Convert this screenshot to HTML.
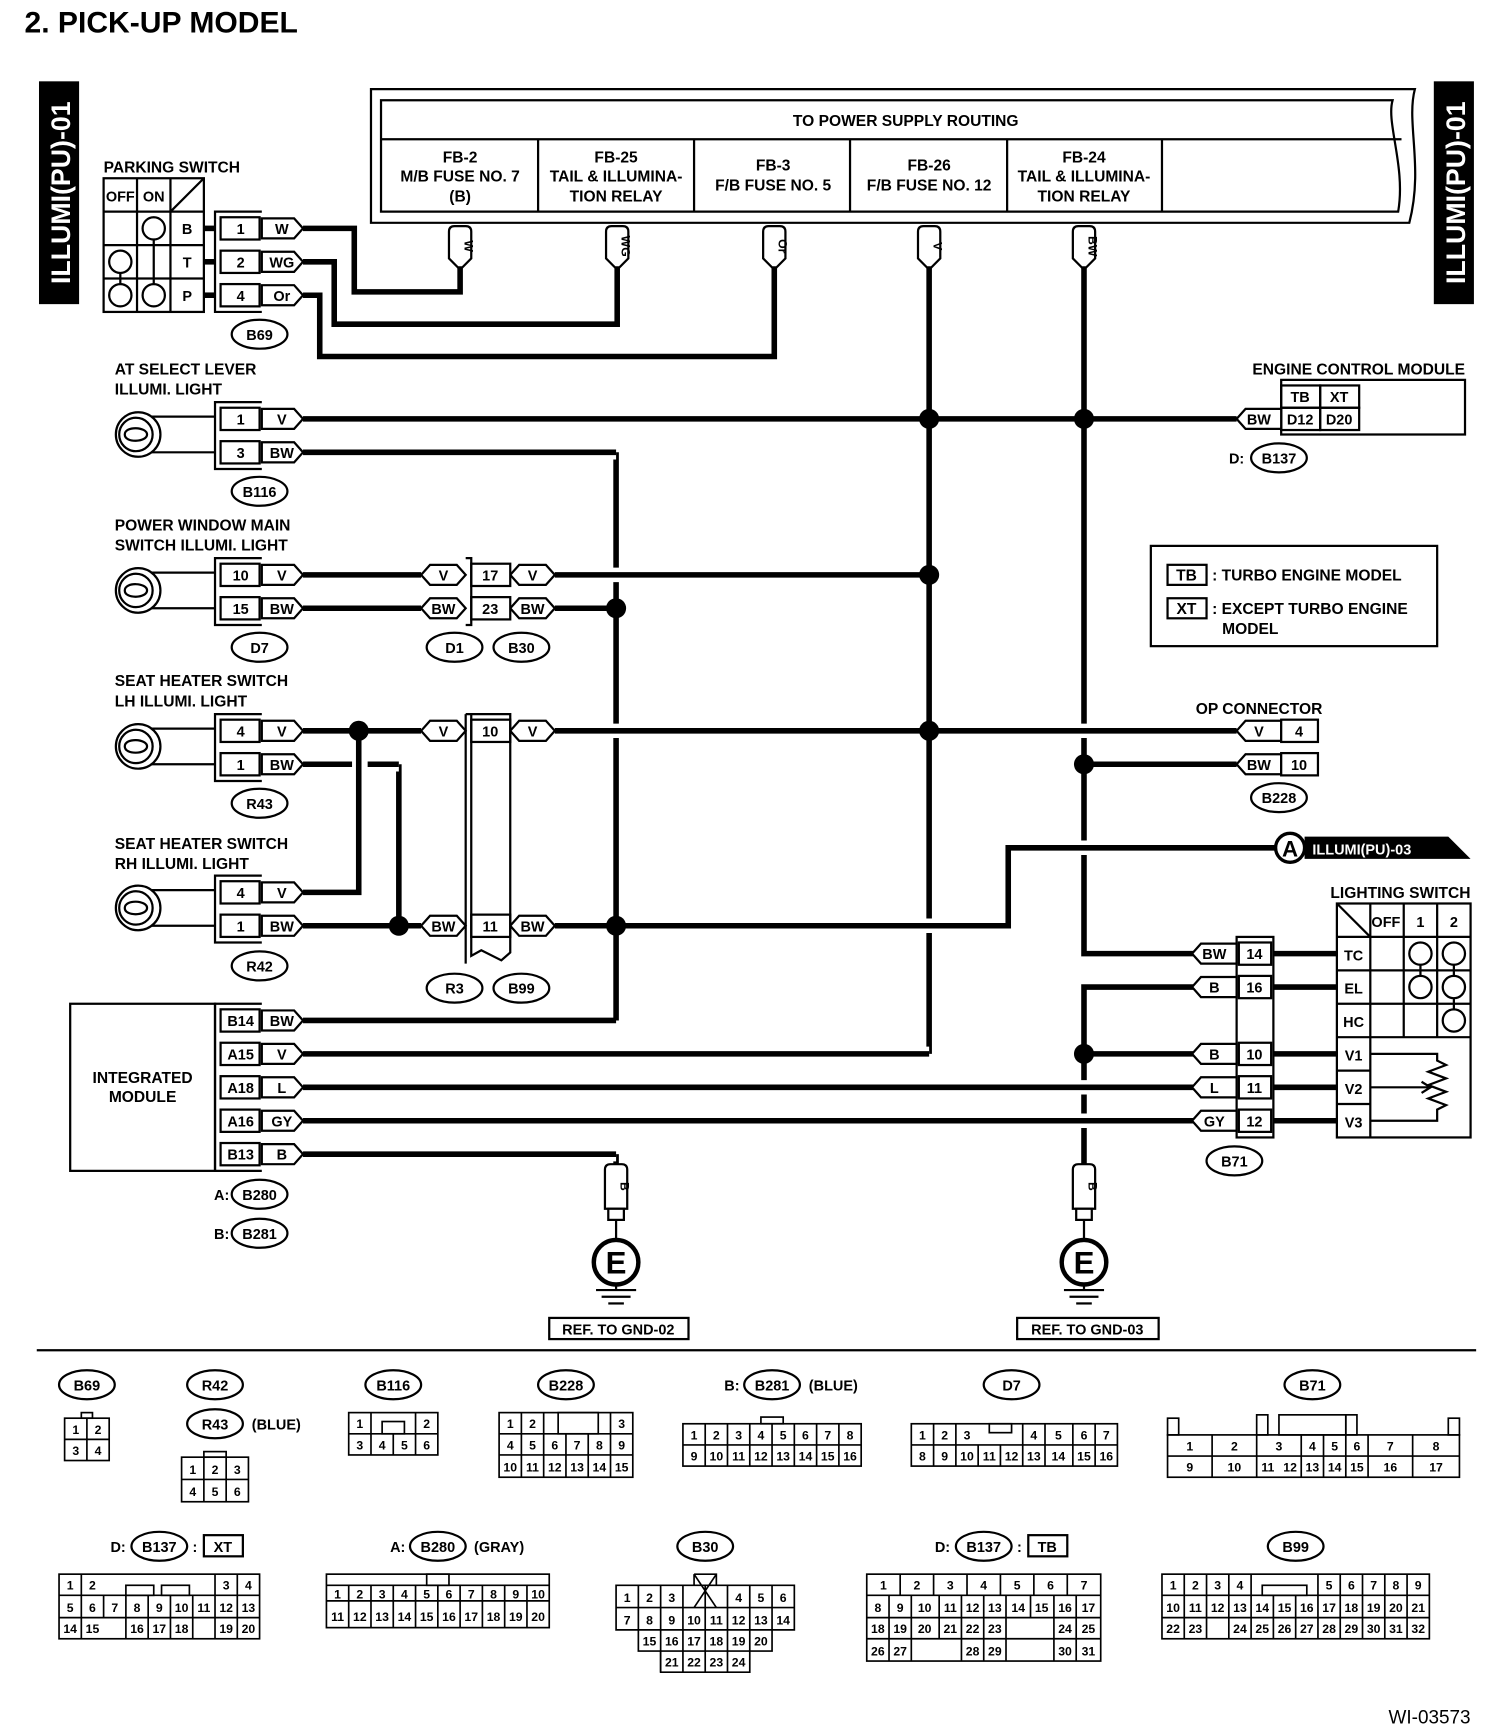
<!DOCTYPE html>
<html><head><meta charset="utf-8"><style>
html,body{margin:0;padding:0;background:#fff}
svg{display:block}
text{font-family:"Liberation Sans",Arial,sans-serif;font-weight:bold;fill:#000}
</style></head><body>
<svg width="1504" height="1726" viewBox="0 0 1350 1549.3" preserveAspectRatio="none" xmlns="http://www.w3.org/2000/svg">
<defs>
<g id="lamp">
<circle cx="0" cy="0" r="20" fill="#fff" stroke="#000" stroke-width="2"/>
<circle cx="-2" cy="0" r="15" fill="none" stroke="#000" stroke-width="2"/>
<path d="M-12,0 C-12,-8 8,-7 8,0 C8,7 -12,8 -12,0" fill="none" stroke="#000" stroke-width="2"/>
</g>
</defs>
<rect width="1350" height="1550" fill="#fff"/>
<text x="22" y="29" font-size="27">2.  PICK-UP MODEL</text>

<rect x="35" y="73" width="36" height="200" fill="#000"/>
<text transform="translate(63,173) rotate(-90)" font-size="24" text-anchor="middle" style="fill:#fff">ILLUMI(PU)-01</text>
<rect x="1287" y="73" width="36" height="200" fill="#000"/>
<text transform="translate(1315,173) rotate(-90)" font-size="24" text-anchor="middle" style="fill:#fff">ILLUMI(PU)-01</text>

<g fill="none" stroke="#000" stroke-width="2">
<path d="M333,80 H1270 C1262,110 1278,150 1265,200 H333 Z"/>
<path d="M342,90 H1250 C1244,110 1262,150 1255,190 H342 Z"/>
<line x1="342" y1="125" x2="1258" y2="125"/>
<line x1="483" y1="125" x2="483" y2="190"/><line x1="623" y1="125" x2="623" y2="190"/>
<line x1="763" y1="125" x2="763" y2="190"/><line x1="904" y1="125" x2="904" y2="190"/>
<line x1="1043" y1="125" x2="1043" y2="190"/>
</g>
<g font-size="14" text-anchor="middle">
<text x="813" y="113">TO POWER SUPPLY ROUTING</text>
<text x="413" y="146">FB-2</text><text x="413" y="163">M/B FUSE NO. 7</text><text x="413" y="181">(B)</text>
<text x="553" y="146">FB-25</text><text x="553" y="163">TAIL &amp; ILLUMINA-</text><text x="553" y="181">TION RELAY</text>
<text x="694" y="153">FB-3</text><text x="694" y="171">F/B FUSE NO. 5</text>
<text x="834" y="153">FB-26</text><text x="834" y="171">F/B FUSE NO. 12</text>
<text x="973" y="146">FB-24</text><text x="973" y="163">TAIL &amp; ILLUMINA-</text><text x="973" y="181">TION RELAY</text>
</g>

<g stroke="#000" stroke-width="5" fill="none">
<path d="M413,236 V262 H318 V205 H272"/>
<path d="M554,236 V291 H300 V235 H272"/>
<path d="M695,236 V320 H287 V265 H272"/>
<line x1="834" y1="236" x2="834" y2="946"/>
<path d="M973,236 V856 H1072"/>
<path d="M553,406 V916"/>
<path d="M322,656 V801 H272"/>
<path d="M358,686 V831"/>
<path d="M1072,886 H973 V1045"/>
<path d="M553,1036 V1045"/>
</g>
<g fill="none" stroke-linejoin="miter">
<g stroke="#fff" stroke-width="13">
<path d="M280,376 H1110"/><path d="M280,406 H553"/>
<path d="M280,516 H378 M500,516 H834"/><path d="M280,546 H378 M500,546 H553"/>
<path d="M280,656 H378 M500,656 H1108"/><path d="M280,686 H316 M328,686 H358 M973,686 H1108"/>
<path d="M280,831 H378 M500,831 H905 V761 H1145"/>
<path d="M280,946 H834 M973,946 H1072"/><path d="M280,976 H1072"/><path d="M280,1006 H1072"/><path d="M280,1036 H553"/>
</g>
<g stroke="#000" stroke-width="5">
<path d="M272,376 H1110"/><path d="M272,406 H553"/>
<path d="M272,516 H378 M498,516 H834"/><path d="M272,546 H378 M498,546 H553"/>
<path d="M272,656 H378 M498,656 H1110"/><path d="M272,686 H316 M330,686 H358 M973,686 H1110"/>
<path d="M272,831 H378 M498,831 H905 V761 H1145"/>
<path d="M272,916 H553"/>
<path d="M272,946 H834 M973,946 H1072"/><path d="M272,976 H1072"/><path d="M272,1006 H1072"/><path d="M272,1036 H553"/>
</g>
</g>
<g fill="#000">
<circle cx="834" cy="376" r="9"/><circle cx="973" cy="376" r="9"/>
<circle cx="834" cy="516" r="9"/><circle cx="553" cy="546" r="9"/>
<circle cx="322" cy="656" r="9"/><circle cx="834" cy="656" r="9"/><circle cx="973" cy="686" r="9"/>
<circle cx="358" cy="831" r="9"/><circle cx="553" cy="831" r="9"/>
<circle cx="973" cy="946" r="9"/>
</g>

<g stroke="#000" stroke-width="2" fill="#fff">
<path d="M403,208 Q403,203 408,203 H418 Q423,203 423,208 V232 L415,240 H411 L403,232 Z"/>
<path d="M544,208 Q544,203 549,203 H559 Q564,203 564,208 V232 L556,240 H552 L544,232 Z"/>
<path d="M685,208 Q685,203 690,203 H700 Q705,203 705,208 V232 L697,240 H693 L685,232 Z"/>
<path d="M824,208 Q824,203 829,203 H839 Q844,203 844,208 V232 L836,240 H832 L824,232 Z"/>
<path d="M963,208 Q963,203 968,203 H978 Q983,203 983,208 V232 L975,240 H971 L963,232 Z"/>
</g>
<g font-size="11" text-anchor="middle">
<text transform="translate(417,221) rotate(90)">W</text>
<text transform="translate(558,221) rotate(90)">WG</text>
<text transform="translate(699,221) rotate(90)">Or</text>
<text transform="translate(838,221) rotate(90)">V</text>
<text transform="translate(977,221) rotate(90)">BW</text>
</g>

<text x="93" y="155" font-size="14">PARKING SWITCH</text>
<g fill="none" stroke="#000" stroke-width="2">
<rect x="93" y="160" width="90" height="120"/>
<line x1="123" y1="160" x2="123" y2="280"/><line x1="153" y1="160" x2="153" y2="280"/>
<line x1="93" y1="190" x2="183" y2="190"/><line x1="93" y1="220" x2="183" y2="220"/><line x1="93" y1="250" x2="183" y2="250"/>
<line x1="153" y1="190" x2="183" y2="160"/>
<circle cx="138" cy="205" r="10"/><circle cx="138" cy="265" r="10"/><line x1="138" y1="215" x2="138" y2="255"/>
<circle cx="108" cy="235" r="10"/><circle cx="108" cy="265" r="10"/><line x1="108" y1="245" x2="108" y2="255"/>
</g>
<g font-size="13" text-anchor="middle">
<text x="108" y="181">OFF</text><text x="138" y="181">ON</text>
<text x="168" y="210">B</text><text x="168" y="240">T</text><text x="168" y="270">P</text>
</g>
<g stroke="#000" stroke-width="5"><line x1="183" y1="205" x2="193" y2="205"/><line x1="183" y1="235" x2="193" y2="235"/><line x1="183" y1="265" x2="193" y2="265"/></g>

<g fill="none" stroke="#000" stroke-width="2">
<path d="M235,190 H193 V280 H235"/><rect x="198" y="195" width="35" height="20"/><rect x="198" y="225" width="35" height="20"/><rect x="198" y="255" width="35" height="20"/>
<path d="M235,361 H193 V421 H235"/><rect x="198" y="366" width="35" height="20"/><rect x="198" y="396" width="35" height="20"/>
<path d="M235,501 H193 V561 H235"/><rect x="198" y="506" width="35" height="20"/><rect x="198" y="536" width="35" height="20"/>
<path d="M235,641 H193 V701 H235"/><rect x="198" y="646" width="35" height="20"/><rect x="198" y="676" width="35" height="20"/>
<path d="M235,786 H193 V846 H235"/><rect x="198" y="791" width="35" height="20"/><rect x="198" y="821" width="35" height="20"/>
<rect x="63" y="901" width="130" height="150"/>
<path d="M235,901 H193 V1051 H235"/>
<rect x="198" y="906" width="35" height="20"/><rect x="198" y="936" width="35" height="20"/><rect x="198" y="966" width="35" height="20"/><rect x="198" y="996" width="35" height="20"/><rect x="198" y="1026" width="35" height="20"/>
</g>
<g font-size="13" text-anchor="middle">
<text x="216" y="210">1</text><text x="216" y="240">2</text><text x="216" y="270">4</text>
<text x="216" y="381">1</text><text x="216" y="411">3</text>
<text x="216" y="521">10</text><text x="216" y="551">15</text>
<text x="216" y="661">4</text><text x="216" y="691">1</text>
<text x="216" y="806">4</text><text x="216" y="836">1</text>
<text x="216" y="921">B14</text><text x="216" y="951">A15</text><text x="216" y="981">A18</text><text x="216" y="1011">A16</text><text x="216" y="1041">B13</text>
</g>
<g stroke="#000" stroke-width="2" fill="#fff">
<path d="M235,196 H264 L272,205 L264,214 H235 Z"/>
<path d="M235,226 H264 L272,235 L264,244 H235 Z"/><path d="M235,256 H264 L272,265 L264,274 H235 Z"/>
<path d="M235,367 H264 L272,376 L264,385 H235 Z"/><path d="M235,397 H264 L272,406 L264,415 H235 Z"/>
<path d="M235,507 H264 L272,516 L264,525 H235 Z"/><path d="M235,537 H264 L272,546 L264,555 H235 Z"/>
<path d="M235,647 H264 L272,656 L264,665 H235 Z"/><path d="M235,677 H264 L272,686 L264,695 H235 Z"/>
<path d="M235,792 H264 L272,801 L264,810 H235 Z"/><path d="M235,822 H264 L272,831 L264,840 H235 Z"/>
<path d="M235,907 H264 L272,916 L264,925 H235 Z"/><path d="M235,937 H264 L272,946 L264,955 H235 Z"/><path d="M235,967 H264 L272,976 L264,985 H235 Z"/><path d="M235,997 H264 L272,1006 L264,1015 H235 Z"/><path d="M235,1027 H264 L272,1036 L264,1045 H235 Z"/>
</g>
<g font-size="13" text-anchor="middle">
<text x="253" y="210">W</text><text x="253" y="240">WG</text><text x="253" y="270">Or</text>
<text x="253" y="381">V</text><text x="253" y="411">BW</text>
<text x="253" y="521">V</text><text x="253" y="551">BW</text>
<text x="253" y="661">V</text><text x="253" y="691">BW</text>
<text x="253" y="806">V</text><text x="253" y="836">BW</text>
<text x="253" y="921">BW</text><text x="253" y="951">V</text><text x="253" y="981">L</text><text x="253" y="1011">GY</text><text x="253" y="1041">B</text>
</g>
<g stroke="#000" stroke-width="2">
<line x1="124" y1="374" x2="193" y2="374"/><line x1="124" y1="406" x2="193" y2="406"/>
<line x1="124" y1="514" x2="193" y2="514"/><line x1="124" y1="546" x2="193" y2="546"/>
<line x1="124" y1="654" x2="193" y2="654"/><line x1="124" y1="686" x2="193" y2="686"/>
<line x1="124" y1="799" x2="193" y2="799"/><line x1="124" y1="831" x2="193" y2="831"/>
</g>
<use href="#lamp" x="124" y="390"/><use href="#lamp" x="124" y="530"/><use href="#lamp" x="124" y="670"/><use href="#lamp" x="124" y="815"/>

<g font-size="14">
<text x="103" y="336">AT SELECT LEVER</text><text x="103" y="354">ILLUMI. LIGHT</text>
<text x="103" y="476">POWER WINDOW MAIN</text><text x="103" y="494">SWITCH ILLUMI. LIGHT</text>
<text x="103" y="616">SEAT HEATER SWITCH</text><text x="103" y="634">LH ILLUMI. LIGHT</text>
<text x="103" y="762">SEAT HEATER SWITCH</text><text x="103" y="780">RH ILLUMI. LIGHT</text>
<text x="128" y="972" text-anchor="middle">INTEGRATED</text><text x="128" y="989" text-anchor="middle">MODULE</text>
</g>
<g fill="#fff" stroke="#000" stroke-width="2">
<ellipse cx="233" cy="300" rx="25" ry="13"/><ellipse cx="233" cy="441" rx="25" ry="13"/><ellipse cx="233" cy="581" rx="25" ry="13"/>
<ellipse cx="233" cy="721" rx="25" ry="13"/><ellipse cx="233" cy="867" rx="25" ry="13"/>
<ellipse cx="233" cy="1072" rx="25" ry="13"/><ellipse cx="233" cy="1107" rx="25" ry="13"/>
<ellipse cx="408" cy="581" rx="25" ry="13"/><ellipse cx="468" cy="581" rx="25" ry="13"/>
<ellipse cx="408" cy="887" rx="25" ry="13"/><ellipse cx="468" cy="887" rx="25" ry="13"/>
<ellipse cx="1148" cy="411" rx="25" ry="13"/><ellipse cx="1148" cy="716" rx="25" ry="13"/><ellipse cx="1108" cy="1042" rx="25" ry="13"/>
</g>
<g font-size="13" text-anchor="middle">
<text x="233" y="305">B69</text><text x="233" y="446">B116</text><text x="233" y="586">D7</text><text x="233" y="726">R43</text><text x="233" y="872">R42</text>
<text x="233" y="1077">B280</text><text x="233" y="1112">B281</text>
<text x="199" y="1077">A:</text><text x="199" y="1112">B:</text>
<text x="408" y="586">D1</text><text x="468" y="586">B30</text><text x="408" y="892">R3</text><text x="468" y="892">B99</text>
<text x="1148" y="416">B137</text><text x="1110" y="416">D:</text><text x="1148" y="721">B228</text><text x="1108" y="1047">B71</text>
</g>

<g stroke="#000" stroke-width="2" fill="#fff">
<path d="M386,507 H410 L418,516 L410,525 H386 L378,516 Z"/><path d="M386,537 H410 L418,546 L410,555 H386 L378,546 Z"/>
<path d="M466,507 H490 L498,516 L490,525 H466 L458,516 Z"/><path d="M466,537 H490 L498,546 L490,555 H466 L458,546 Z"/>
<path d="M386,647 H410 L418,656 L410,665 H386 L378,656 Z"/><path d="M466,647 H490 L498,656 L490,665 H466 L458,656 Z"/>
<path d="M386,822 H410 L418,831 L410,840 H386 L378,831 Z"/><path d="M466,822 H490 L498,831 L490,840 H466 L458,831 Z"/>
<rect x="423" y="506" width="35" height="20"/><rect x="423" y="536" width="35" height="20"/>
<path d="M418,501 H423 V561 H418" fill="none"/>
<rect x="423" y="646" width="35" height="20"/><rect x="423" y="821" width="35" height="20"/>
<path d="M418,641 V865 M423,641 V858 L432,853 L450,862 L458,855 V641 H418" fill="none"/>
</g>
<g font-size="13" text-anchor="middle">
<text x="398" y="521">V</text><text x="398" y="551">BW</text><text x="478" y="521">V</text><text x="478" y="551">BW</text>
<text x="440" y="521">17</text><text x="440" y="551">23</text>
<text x="398" y="661">V</text><text x="478" y="661">V</text><text x="440" y="661">10</text>
<text x="398" y="836">BW</text><text x="478" y="836">BW</text><text x="440" y="836">11</text>
</g>

<text x="1315" y="336" font-size="14" text-anchor="end">ENGINE CONTROL MODULE</text>
<g fill="none" stroke="#000" stroke-width="2">
<path d="M1150,341 H1315 V390 H1150 Z"/>
<rect x="1150" y="346" width="35" height="20"/><rect x="1185" y="346" width="35" height="20"/>
<rect x="1150" y="366" width="35" height="20"/><rect x="1185" y="366" width="35" height="20"/>
</g>
<path d="M1118,367 H1150 V385 H1118 L1110,376 Z" fill="#fff" stroke="#000" stroke-width="2"/>
<g font-size="13" text-anchor="middle">
<text x="1167" y="361">TB</text><text x="1202" y="361">XT</text><text x="1167" y="381">D12</text><text x="1202" y="381">D20</text><text x="1130" y="381">BW</text>
</g>

<rect x="1033" y="490" width="257" height="90" fill="none" stroke="#000" stroke-width="2"/>
<rect x="1048" y="507" width="35" height="18" fill="none" stroke="#000" stroke-width="2"/>
<rect x="1048" y="537" width="35" height="18" fill="none" stroke="#000" stroke-width="2"/>
<g font-size="14"><text x="1065" y="521" text-anchor="middle">TB</text><text x="1065" y="551" text-anchor="middle">XT</text>
<text x="1088" y="521">: TURBO ENGINE MODEL</text><text x="1088" y="551">: EXCEPT TURBO ENGINE</text><text x="1097" y="569">MODEL</text></g>

<text x="1187" y="641" font-size="14" text-anchor="end">OP CONNECTOR</text>
<g stroke="#000" stroke-width="2" fill="#fff">
<path d="M1118,647 H1150 V665 H1118 L1110,656 Z"/><path d="M1118,677 H1150 V695 H1118 L1110,686 Z"/>
<rect x="1150" y="646" width="33" height="20"/><rect x="1150" y="676" width="33" height="20"/>
</g>
<g font-size="13" text-anchor="middle"><text x="1130" y="661">V</text><text x="1130" y="691">BW</text><text x="1166" y="661">4</text><text x="1166" y="691">10</text></g>

<circle cx="1158" cy="761" r="13" fill="#fff" stroke="#000" stroke-width="3"/>
<text x="1158" y="769" font-size="20" text-anchor="middle">A</text>
<path d="M1171,751 H1300 L1320,771 H1171 Z" fill="#000"/>
<text x="1178" y="767" font-size="13" style="fill:#fff">ILLUMI(PU)-03</text>

<text x="1320" y="806" font-size="14" text-anchor="end">LIGHTING SWITCH</text>
<g stroke="#000" stroke-width="2" fill="#fff">
<path d="M1078,847 H1110 V865 H1078 L1070,856 Z"/><path d="M1078,877 H1110 V895 H1078 L1070,886 Z"/>
<path d="M1078,937 H1110 V955 H1078 L1070,946 Z"/><path d="M1078,967 H1110 V985 H1078 L1070,976 Z"/><path d="M1078,997 H1110 V1015 H1078 L1070,1006 Z"/>
<rect x="1110" y="841" width="33" height="180" fill="none"/>
<rect x="1112" y="846" width="29" height="20"/><rect x="1112" y="876" width="29" height="20"/><rect x="1112" y="936" width="29" height="20"/><rect x="1112" y="966" width="29" height="20"/><rect x="1112" y="996" width="29" height="20"/>
</g>
<g stroke="#000" stroke-width="5">
<line x1="1143" y1="856" x2="1200" y2="856"/><line x1="1143" y1="886" x2="1200" y2="886"/><line x1="1143" y1="946" x2="1200" y2="946"/><line x1="1143" y1="976" x2="1200" y2="976"/><line x1="1143" y1="1006" x2="1200" y2="1006"/>
</g>
<g fill="none" stroke="#000" stroke-width="2">
<rect x="1200" y="811" width="120" height="210"/>
<line x1="1230" y1="811" x2="1230" y2="1021"/>
<line x1="1260" y1="811" x2="1260" y2="931"/><line x1="1290" y1="811" x2="1290" y2="931"/>
<line x1="1200" y1="841" x2="1320" y2="841"/><line x1="1200" y1="871" x2="1320" y2="871"/><line x1="1200" y1="901" x2="1320" y2="901"/><line x1="1200" y1="931" x2="1320" y2="931"/>
<line x1="1200" y1="961" x2="1230" y2="961"/><line x1="1200" y1="991" x2="1230" y2="991"/>
<line x1="1200" y1="811" x2="1230" y2="841"/>
<circle cx="1275" cy="856" r="10"/><circle cx="1275" cy="886" r="10"/><line x1="1275" y1="866" x2="1275" y2="876"/>
<circle cx="1305" cy="856" r="10"/><circle cx="1305" cy="886" r="10"/><circle cx="1305" cy="916" r="10"/>
<line x1="1305" y1="866" x2="1305" y2="876"/><line x1="1305" y1="896" x2="1305" y2="906"/>
<path d="M1230,946 H1290 V952 L1298,956 L1282,962 L1298,968 L1282,974 L1298,980 L1282,986 L1298,992 L1290,996 V1006 H1230"/>
<path d="M1230,976 H1282 M1276,971 L1284,976 L1276,981"/>
</g>
<g font-size="13" text-anchor="middle">
<text x="1090" y="861">BW</text><text x="1090" y="891">B</text><text x="1090" y="951">B</text><text x="1090" y="981">L</text><text x="1090" y="1011">GY</text>
<text x="1126" y="861">14</text><text x="1126" y="891">16</text><text x="1126" y="951">10</text><text x="1126" y="981">11</text><text x="1126" y="1011">12</text>
<text x="1244" y="832">OFF</text><text x="1275" y="832">1</text><text x="1305" y="832">2</text>
<text x="1215" y="862">TC</text><text x="1215" y="892">EL</text><text x="1215" y="922">HC</text><text x="1215" y="952">V1</text><text x="1215" y="982">V2</text><text x="1215" y="1012">V3</text>
</g>

<g stroke="#000" stroke-width="2" fill="#fff">
<path d="M543,1050 Q543,1045 548,1045 H558 Q563,1045 563,1050 V1085 H543 Z"/>
<path d="M963,1050 Q963,1045 968,1045 H978 Q983,1045 983,1050 V1085 H963 Z"/>
<rect x="546" y="1085" width="14" height="10"/><rect x="966" y="1085" width="14" height="10"/>
<line x1="553" y1="1095" x2="553" y2="1113"/><line x1="973" y1="1095" x2="973" y2="1113"/>
<circle cx="553" cy="1133" r="20" stroke-width="4"/><circle cx="973" cy="1133" r="20" stroke-width="4"/>
<line x1="553" y1="1153" x2="553" y2="1157"/><line x1="973" y1="1153" x2="973" y2="1157"/>
<line x1="535" y1="1158" x2="571" y2="1158"/><line x1="540" y1="1164" x2="566" y2="1164"/><line x1="546" y1="1170" x2="560" y2="1170"/>
<line x1="955" y1="1158" x2="991" y2="1158"/><line x1="960" y1="1164" x2="986" y2="1164"/><line x1="966" y1="1170" x2="980" y2="1170"/>
<rect x="493" y="1183" width="125" height="19"/><rect x="913" y="1183" width="127" height="19"/>
</g>
<g font-size="11" text-anchor="middle">
<text transform="translate(557,1065) rotate(90)">B</text><text transform="translate(977,1065) rotate(90)">B</text>
</g>
<text x="553" y="1143" font-size="28" text-anchor="middle">E</text><text x="973" y="1143" font-size="28" text-anchor="middle">E</text>
<text x="555" y="1198" font-size="13" text-anchor="middle">REF. TO GND-02</text><text x="976" y="1198" font-size="13" text-anchor="middle">REF. TO GND-03</text>

<line x1="33" y1="1212" x2="1325" y2="1212" stroke="#000" stroke-width="2"/>

<g fill="#fff" stroke="#000" stroke-width="2">
<ellipse cx="78" cy="1243" rx="25" ry="13"/><ellipse cx="193" cy="1243" rx="25" ry="13"/><ellipse cx="193" cy="1278" rx="25" ry="13"/>
<ellipse cx="353" cy="1243" rx="25" ry="13"/><ellipse cx="508" cy="1243" rx="25" ry="13"/><ellipse cx="693" cy="1243" rx="25" ry="13"/>
<ellipse cx="908" cy="1243" rx="25" ry="13"/><ellipse cx="1178" cy="1243" rx="25" ry="13"/>
<ellipse cx="143" cy="1388" rx="25" ry="13"/><ellipse cx="393" cy="1388" rx="25" ry="13"/><ellipse cx="633" cy="1388" rx="25" ry="13"/>
<ellipse cx="883" cy="1388" rx="25" ry="13"/><ellipse cx="1163" cy="1388" rx="25" ry="13"/>
<rect x="183" y="1378" width="35" height="19"/><rect x="923" y="1378" width="35" height="19"/>
</g>
<g font-size="13" text-anchor="middle">
<text x="78" y="1248">B69</text><text x="193" y="1248">R42</text><text x="193" y="1283">R43</text><text x="248" y="1283">(BLUE)</text>
<text x="353" y="1248">B116</text><text x="508" y="1248">B228</text><text x="693" y="1248">B281</text><text x="657" y="1248">B:</text><text x="748" y="1248">(BLUE)</text>
<text x="908" y="1248">D7</text><text x="1178" y="1248">B71</text>
<text x="143" y="1393">B137</text><text x="106" y="1393">D:</text><text x="175" y="1393">:</text><text x="200" y="1393">XT</text>
<text x="393" y="1393">B280</text><text x="357" y="1393">A:</text><text x="448" y="1393">(GRAY)</text>
<text x="633" y="1393">B30</text>
<text x="883" y="1393">B137</text><text x="846" y="1393">D:</text><text x="915" y="1393">:</text><text x="940" y="1393">TB</text>
<text x="1163" y="1393">B99</text>
</g>

<g fill="none" stroke="#000" stroke-width="1.5">
<rect x="58" y="1273" width="40" height="38"/><line x1="58" y1="1292" x2="98" y2="1292"/><line x1="78" y1="1273" x2="78" y2="1311"/><rect x="73" y="1268" width="10" height="5"/>
<rect x="163" y="1308" width="60" height="40"/><line x1="163" y1="1328" x2="223" y2="1328"/><line x1="183" y1="1308" x2="183" y2="1348"/><line x1="203" y1="1308" x2="203" y2="1348"/><rect x="183" y="1303" width="20" height="5"/>
<rect x="313" y="1268" width="80" height="38"/><line x1="313" y1="1287" x2="393" y2="1287"/><line x1="333" y1="1268" x2="333" y2="1306"/><line x1="353" y1="1287" x2="353" y2="1306"/><line x1="373" y1="1268" x2="373" y2="1306"/><rect x="343" y="1276" width="20" height="11"/>
<rect x="448" y="1268" width="120" height="58"/><line x1="448" y1="1287" x2="568" y2="1287"/><line x1="448" y1="1306" x2="568" y2="1306"/>
<line x1="468" y1="1268" x2="468" y2="1326"/><line x1="488" y1="1268" x2="488" y2="1326"/><line x1="508" y1="1287" x2="508" y2="1326"/><line x1="528" y1="1287" x2="528" y2="1326"/><line x1="548" y1="1268" x2="548" y2="1326"/>
<rect x="501" y="1268" width="36" height="19"/>
<rect x="613" y="1278" width="160" height="38"/><line x1="613" y1="1297" x2="773" y2="1297"/>
<path d="M633,1278V1316M653,1278V1316M673,1278V1316M693,1278V1316M713,1278V1316M733,1278V1316M753,1278V1316"/><rect x="683" y="1272" width="20" height="6"/>
<rect x="818" y="1278" width="185" height="38"/><line x1="818" y1="1297" x2="1003" y2="1297"/>
<path d="M838,1278V1316M858,1278V1316M878,1297V1316M898,1297V1316M918,1278V1316M938,1278V1316M963,1278V1316M983,1278V1316"/><rect x="888" y="1278" width="20" height="8"/>
<rect x="1048" y="1288" width="262" height="38"/><line x1="1048" y1="1307" x2="1310" y2="1307"/>
<path d="M1088,1288V1326M1128,1288V1326M1168,1288V1326M1188,1288V1326M1208,1288V1326M1228,1288V1326M1268,1288V1326"/>
<rect x="1148" y="1270" width="60" height="18"/><rect x="1048" y="1273" width="10" height="15"/><rect x="1300" y="1273" width="10" height="15"/><rect x="1128" y="1270" width="10" height="18"/><rect x="1208" y="1270" width="10" height="18"/>
<rect x="53" y="1413" width="180" height="58"/><line x1="53" y1="1432" x2="233" y2="1432"/><line x1="53" y1="1452" x2="233" y2="1452"/>
<path d="M73,1413V1471M93,1432V1452M113,1432V1471M133,1432V1471M153,1432V1471M173,1432V1471M193,1413V1471M213,1413V1471"/><rect x="113" y="1423" width="25" height="9"/><rect x="145" y="1423" width="25" height="9"/>
<rect x="293" y="1413" width="200" height="48"/><line x1="293" y1="1437" x2="493" y2="1437"/>
<path d="M313,1423V1461M333,1423V1461M353,1423V1461M373,1423V1461M393,1423V1461M413,1423V1461M433,1423V1461M453,1423V1461M473,1423V1461M293,1423H493"/><rect x="383" y="1413" width="20" height="10"/>
<path d="M553,1423H713V1463H693V1482H673V1501H593V1482H573V1463H553Z"/>
<path d="M553,1443H713M573,1463H693M593,1482H673"/>
<path d="M573,1423V1463M593,1423V1501M613,1423V1501M633,1423V1501M653,1423V1501M673,1423V1482M693,1423V1463"/>
<path d="M623,1413H643V1423M623,1413V1423M623,1413L643,1443M643,1413L623,1443"/>
<rect x="778" y="1413" width="210" height="78"/><line x1="778" y1="1432" x2="988" y2="1432"/><line x1="778" y1="1452" x2="988" y2="1452"/><line x1="778" y1="1471" x2="988" y2="1471"/>
<path d="M808,1413V1432M838,1413V1432M868,1413V1432M898,1413V1432M928,1413V1432M958,1413V1432"/>
<path d="M798,1432V1491M818,1432V1491M843,1432V1471M863,1432V1491M883,1432V1491M903,1432V1491M925,1432V1452M946,1432V1491M966,1432V1491"/>
<rect x="1043" y="1413" width="240" height="58"/><line x1="1043" y1="1432" x2="1283" y2="1432"/><line x1="1043" y1="1452" x2="1283" y2="1452"/>
<path d="M1063,1413V1471M1083,1413V1471M1103,1413V1471M1123,1413V1471M1143,1432V1471M1163,1432V1471M1183,1413V1471M1203,1413V1471M1223,1413V1471M1243,1413V1471M1263,1413V1471"/>
<rect x="1133" y="1423" width="40" height="9"/>
</g>
<g font-size="11" text-anchor="middle">
<text x="68" y="1287">1</text><text x="88" y="1287">2</text><text x="68" y="1306">3</text><text x="88" y="1306">4</text>
<text x="173" y="1323">1</text><text x="193" y="1323">2</text><text x="213" y="1323">3</text><text x="173" y="1343">4</text><text x="193" y="1343">5</text><text x="213" y="1343">6</text>
<text x="323" y="1282">1</text><text x="383" y="1282">2</text><text x="323" y="1301">3</text><text x="343" y="1301">4</text><text x="363" y="1301">5</text><text x="383" y="1301">6</text>
<text x="458" y="1282">1</text><text x="478" y="1282">2</text><text x="558" y="1282">3</text>
<text x="458" y="1301">4</text><text x="478" y="1301">5</text><text x="498" y="1301">6</text><text x="518" y="1301">7</text><text x="538" y="1301">8</text><text x="558" y="1301">9</text>
<text x="458" y="1321">10</text><text x="478" y="1321">11</text><text x="498" y="1321">12</text><text x="518" y="1321">13</text><text x="538" y="1321">14</text><text x="558" y="1321">15</text>
<text x="623" y="1292">1</text><text x="643" y="1292">2</text><text x="663" y="1292">3</text><text x="683" y="1292">4</text><text x="703" y="1292">5</text><text x="723" y="1292">6</text><text x="743" y="1292">7</text><text x="763" y="1292">8</text>
<text x="623" y="1311">9</text><text x="643" y="1311">10</text><text x="663" y="1311">11</text><text x="683" y="1311">12</text><text x="703" y="1311">13</text><text x="723" y="1311">14</text><text x="743" y="1311">15</text><text x="763" y="1311">16</text>
<text x="828" y="1292">1</text><text x="848" y="1292">2</text><text x="868" y="1292">3</text><text x="928" y="1292">4</text><text x="950" y="1292">5</text><text x="973" y="1292">6</text><text x="993" y="1292">7</text>
<text x="828" y="1311">8</text><text x="848" y="1311">9</text><text x="868" y="1311">10</text><text x="888" y="1311">11</text><text x="908" y="1311">12</text><text x="928" y="1311">13</text><text x="950" y="1311">14</text><text x="973" y="1311">15</text><text x="993" y="1311">16</text>
<text x="1068" y="1302">1</text><text x="1108" y="1302">2</text><text x="1148" y="1302">3</text><text x="1178" y="1302">4</text><text x="1198" y="1302">5</text><text x="1218" y="1302">6</text><text x="1248" y="1302">7</text><text x="1289" y="1302">8</text>
<text x="1068" y="1321">9</text><text x="1108" y="1321">10</text><text x="1138" y="1321">11</text><text x="1158" y="1321">12</text><text x="1178" y="1321">13</text><text x="1198" y="1321">14</text><text x="1218" y="1321">15</text><text x="1248" y="1321">16</text><text x="1289" y="1321">17</text>
<text x="63" y="1427">1</text><text x="83" y="1427">2</text><text x="203" y="1427">3</text><text x="223" y="1427">4</text>
<text x="63" y="1447">5</text><text x="83" y="1447">6</text><text x="103" y="1447">7</text><text x="123" y="1447">8</text><text x="143" y="1447">9</text><text x="163" y="1447">10</text><text x="183" y="1447">11</text><text x="203" y="1447">12</text><text x="223" y="1447">13</text>
<text x="63" y="1466">14</text><text x="83" y="1466">15</text><text x="123" y="1466">16</text><text x="143" y="1466">17</text><text x="163" y="1466">18</text><text x="203" y="1466">19</text><text x="223" y="1466">20</text>
<text x="303" y="1435">1</text><text x="323" y="1435">2</text><text x="343" y="1435">3</text><text x="363" y="1435">4</text><text x="383" y="1435">5</text><text x="403" y="1435">6</text><text x="423" y="1435">7</text><text x="443" y="1435">8</text><text x="463" y="1435">9</text><text x="483" y="1435">10</text>
<text x="303" y="1455">11</text><text x="323" y="1455">12</text><text x="343" y="1455">13</text><text x="363" y="1455">14</text><text x="383" y="1455">15</text><text x="403" y="1455">16</text><text x="423" y="1455">17</text><text x="443" y="1455">18</text><text x="463" y="1455">19</text><text x="483" y="1455">20</text>
<text x="563" y="1438">1</text><text x="583" y="1438">2</text><text x="603" y="1438">3</text><text x="663" y="1438">4</text><text x="683" y="1438">5</text><text x="703" y="1438">6</text>
<text x="563" y="1458">7</text><text x="583" y="1458">8</text><text x="603" y="1458">9</text><text x="623" y="1458">10</text><text x="643" y="1458">11</text><text x="663" y="1458">12</text><text x="683" y="1458">13</text><text x="703" y="1458">14</text>
<text x="583" y="1477">15</text><text x="603" y="1477">16</text><text x="623" y="1477">17</text><text x="643" y="1477">18</text><text x="663" y="1477">19</text><text x="683" y="1477">20</text>
<text x="603" y="1496">21</text><text x="623" y="1496">22</text><text x="643" y="1496">23</text><text x="663" y="1496">24</text>
<text x="793" y="1427">1</text><text x="823" y="1427">2</text><text x="853" y="1427">3</text><text x="883" y="1427">4</text><text x="913" y="1427">5</text><text x="943" y="1427">6</text><text x="973" y="1427">7</text>
<text x="788" y="1447">8</text><text x="808" y="1447">9</text><text x="830" y="1447">10</text><text x="853" y="1447">11</text><text x="873" y="1447">12</text><text x="893" y="1447">13</text><text x="914" y="1447">14</text><text x="935" y="1447">15</text><text x="956" y="1447">16</text><text x="977" y="1447">17</text>
<text x="788" y="1466">18</text><text x="808" y="1466">19</text><text x="830" y="1466">20</text><text x="853" y="1466">21</text><text x="873" y="1466">22</text><text x="893" y="1466">23</text><text x="956" y="1466">24</text><text x="977" y="1466">25</text>
<text x="788" y="1486">26</text><text x="808" y="1486">27</text><text x="873" y="1486">28</text><text x="893" y="1486">29</text><text x="956" y="1486">30</text><text x="977" y="1486">31</text>
<text x="1053" y="1427">1</text><text x="1073" y="1427">2</text><text x="1093" y="1427">3</text><text x="1113" y="1427">4</text><text x="1193" y="1427">5</text><text x="1213" y="1427">6</text><text x="1233" y="1427">7</text><text x="1253" y="1427">8</text><text x="1273" y="1427">9</text>
<text x="1053" y="1447">10</text><text x="1073" y="1447">11</text><text x="1093" y="1447">12</text><text x="1113" y="1447">13</text><text x="1133" y="1447">14</text><text x="1153" y="1447">15</text><text x="1173" y="1447">16</text><text x="1193" y="1447">17</text><text x="1213" y="1447">18</text><text x="1233" y="1447">19</text><text x="1253" y="1447">20</text><text x="1273" y="1447">21</text>
<text x="1053" y="1466">22</text><text x="1073" y="1466">23</text><text x="1113" y="1466">24</text><text x="1133" y="1466">25</text><text x="1153" y="1466">26</text><text x="1173" y="1466">27</text><text x="1193" y="1466">28</text><text x="1213" y="1466">29</text><text x="1233" y="1466">30</text><text x="1253" y="1466">31</text><text x="1273" y="1466">32</text>
</g>
<text x="1320" y="1547" font-size="17" text-anchor="end" style="font-weight:normal">WI-03573</text>
</svg>
</body></html>
